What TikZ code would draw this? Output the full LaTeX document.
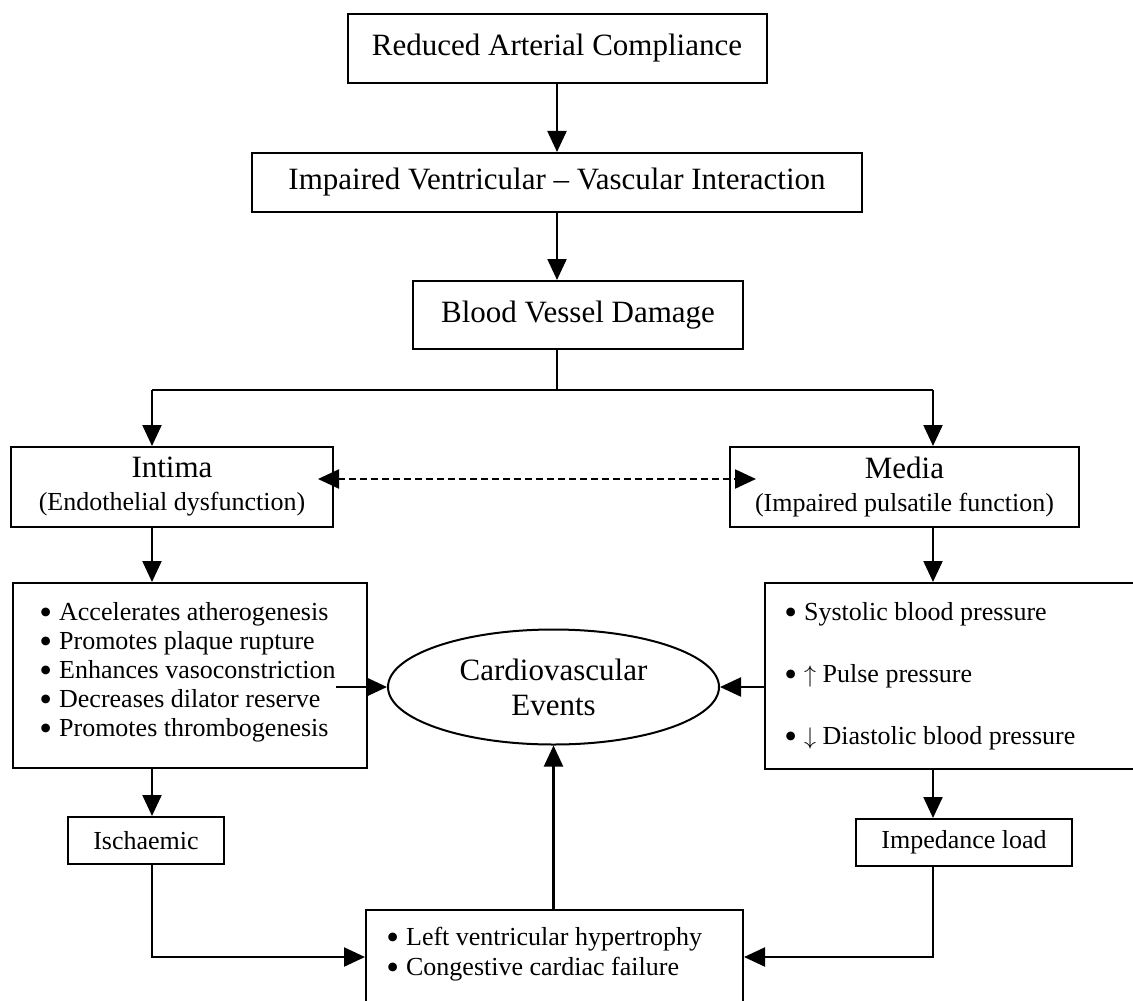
\documentclass[tikz,border=0pt]{standalone}
\usepackage{graphicx}
\usepackage{fontspec}
\setmainfont{Liberation Serif}
\usetikzlibrary{arrows.meta,shapes.geometric}

\newcommand{\headfont}{\fontsize{15.5}{17.5}\selectfont}
\newcommand{\itemfont}{\fontsize{13}{15}\selectfont}
\newcommand{\itm}{\raisebox{-1.9pt}{\scalebox{1.4}{\textbullet}}\hspace{3.5pt}}

\begin{document}
\begin{tikzpicture}[x=0.5pt, y=-0.5pt,
        link/.style={line width=1.1pt},
        arr/.style={link, -{Triangle[length=10.5pt,width=9.5pt]}},
        box/.style={draw, line width=1pt, inner sep=0pt, align=center},
        items/.style={anchor=west, inner sep=0pt, align=left}]
        \useasboundingbox (0,0) rectangle (1133,1000);
        % chain at the top
        \node[box, minimum width=209.5pt, minimum height=34.5pt, font=\headfont] (comp) at (557,48.5) {Reduced Arterial Compliance};
        \node[box, minimum width=305pt, minimum height=29.5pt, font=\headfont] (inter) at (557,182.5) {Impaired Ventricular -- Vascular Interaction};
        \node[box, minimum width=165pt, minimum height=34pt, font=\headfont] (damage) at (578,315) {Blood Vessel Damage};
        % intima and media
        \node[box, minimum width=161pt, minimum height=40pt, font=\itemfont] (intima) at (172,487) {{\headfont Intima}\\[1.5pt](Endothelial dysfunction)};
        \node[box, minimum width=174.5pt, minimum height=40pt, font=\itemfont] (media) at (904.5,487) {{\headfont Media}\\[1.5pt](Impaired pulsatile function)};
        % lists
        \node[box, minimum width=177pt, minimum height=92.5pt] (intlist) at (190,675.5) {};
        \node[items, font=\fontsize{13}{14.5}\selectfont] (intitems) at (39,672) {\itm Accelerates atherogenesis\\\itm Promotes plaque rupture\\\itm Enhances vasoconstriction\\\itm Decreases dilator reserve\\\itm Promotes thrombogenesis};
        \node[box, minimum width=187.5pt, minimum height=93pt] (medlist) at (952.5,676) {};
        \node[items, font=\fontsize{13}{31}\selectfont] (meditems) at (784,676) {\itm Systolic blood pressure\\\itm $\uparrow$ Pulse pressure\\\itm $\downarrow$ Diastolic blood pressure};
        \node[draw, ellipse, line width=1pt, inner sep=0pt, minimum width=165.5pt, minimum height=57.5pt, align=center, font=\headfont] (events) at (553.5,687) {Cardiovascular\\Events};
        % bottom row
        \node[box, minimum width=78pt, minimum height=23.5pt, font=\itemfont] (ischaemic) at (146,840.5) {Ischaemic};
        \node[box, minimum width=108pt, minimum height=23.5pt, font=\itemfont] (impedance) at (964,842.5) {Impedance load};
        \node[box, minimum width=188.5pt, minimum height=47pt] (lvh) at (554.5,957) {};
        \node[items, font=\fontsize{13}{15}\selectfont] (lvhitems) at (386,954) {\itm Left ventricular hypertrophy\\\itm Congestive cardiac failure};

        \coordinate (split) at (557,390);
        \coordinate (lcol) at (152,390);
        \coordinate (rcol) at (933,390);
        \coordinate (vasoend) at (336,687);

        \draw[arr] (comp.south) -- (inter.north);
        \draw[arr] (inter.south) -- (inter.south |- damage.north);
        \draw[link] (damage.south -| split) -- (split);
        \draw[link] (lcol) -- (rcol);
        \draw[arr] (lcol) -- (lcol |- intima.north);
        \draw[arr] (rcol) -- (rcol |- media.north);
        \draw[link, dash pattern=on 3.5pt off 2pt, {Triangle[length=10.5pt,width=9.5pt]}-{Triangle[length=10.5pt,width=9.5pt]}, shorten <=-8pt, shorten >=-13.5pt] ([yshift=4pt]intima.east) -- ([yshift=4pt]media.west);
        \draw[arr] (intima.south -| lcol) -- (intlist.north -| lcol);
        \draw[arr] (media.south -| rcol) -- (medlist.north -| rcol);
        \draw[arr] (vasoend) -- (vasoend -| events.west);
        \draw[arr] (medlist.west |- events.east) -- (events.east);
        \draw[arr] (intlist.south -| lcol) -- (ischaemic.north -| lcol);
        \draw[arr] (medlist.south -| rcol) -- (impedance.north -| rcol);
        \draw[arr] (ischaemic.south -| lcol) |- (lvh.west);
        \draw[arr] (impedance.south -| rcol) |- (lvh.east);
        \draw[arr] (lvh.north -| events.south) -- (events.south);
\end{tikzpicture}
\end{document}
